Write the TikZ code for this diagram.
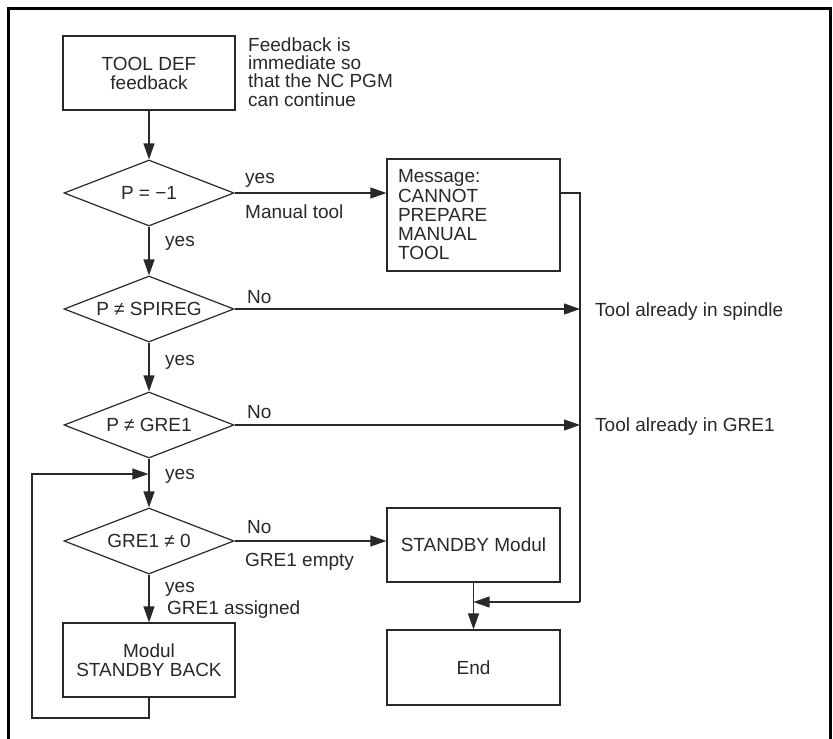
\documentclass[tikz,border=0pt]{standalone}
\usepackage{fontspec}
\setmainfont{Liberation Sans}
\usetikzlibrary{arrows.meta,shapes.geometric}
\definecolor{ink}{RGB}{40,40,40}
\begin{document}
\begin{tikzpicture}[x=1pt,y=-1pt,
  font=\fontsize{19}{19}\selectfont,
  every node/.style={text=ink},
  box/.style={draw=ink, line width=1.2pt, minimum width=172pt, minimum height=74pt, inner sep=0pt, align=center},
  dia/.style={diamond, shape aspect=2.58, draw=ink, line width=1.2pt, minimum width=170pt, minimum height=66pt, inner sep=0pt},
  lab/.style={anchor=base west, inner sep=0pt},
  con/.style={draw=ink, line width=1.2pt},
  arr/.style={con, -{Triangle[length=16pt,width=11pt]}},
  frame/.style={draw=black, line width=3pt}]
\useasboundingbox (0,0) rectangle (833,739);
\draw[frame] (8,740) -- (8,8) -- (830.5,8) -- (830.5,740);

% nodes
\node[box] (tool) at (149,73) {TOOL DEF\\feedback};
\node[lab, align=left, font=\fontsize{19}{18.3}\selectfont] (fb) at (248,106) {Feedback is\\immediate so\\that the NC PGM\\can continue};
\node[dia] (d1) at (149,193) {P = −1};
\node[dia] (d2) at (149,309) {P ≠ SPIREG};
\node[dia] (d3) at (149,425) {P ≠ GRE1};
\node[dia] (d4) at (149,541) {GRE1 ≠ 0};
\node[box, minimum width=173pt, minimum height=112pt, align=left, text width=151pt, inner xsep=11pt, font=\fontsize{19}{19.25}\selectfont] (msg) at (473.5,215) {Message:\\CANNOT\\PREPARE\\MANUAL\\TOOL};
\node[box, minimum width=173pt] (sb) at (473.5,545) {STANDBY Modul};
\node[box, minimum width=173pt, minimum height=75pt] (end) at (473.5,667.5) {End};
\node[box] (back) at (149,660) {Modul\\STANDBY BACK};

% labels
\node[lab] (l1) at (245,183) {yes};
\node[lab] (l2) at (245,218) {Manual tool};
\node[lab] (l3) at (165,246) {yes};
\node[lab] (l4) at (247,303) {No};
\node[lab] (l5) at (165,365) {yes};
\node[lab] (l6) at (247,418) {No};
\node[lab] (l7) at (165,479) {yes};
\node[lab] (l8) at (247,533) {No};
\node[lab] (l9) at (245,566) {GRE1 empty};
\node[lab] (l10) at (165,592) {yes};
\node[lab] (l11) at (167,614) {GRE1 assigned};
\node[lab] (t1) at (595,316) {Tool already in spindle};
\node[lab] (t2) at (595,431) {Tool already in GRE1};

% coordinates
\coordinate (busT) at (580,193);
\coordinate (busB) at (580,602);
\coordinate (bus2) at (580,309);
\coordinate (bus3) at (580,425);
\coordinate (merge) at (473.5,602);
\coordinate (loopin) at (148.4,474);
\coordinate (loopB) at (149,718);
\coordinate (loopL) at (32,718);

% connectors
\draw[arr] (tool) -- (d1);
\draw[arr] (d1) -- (d2);
\draw[arr] (d2) -- (d3);
\draw[arr] (d3) -- (d4);
\draw[arr] (d4) -- (back);
\draw[arr] (d1.east) -- (msg.west |- d1.east);
\draw[arr] (d2.east) -- (bus2);
\draw[arr] (d3.east) -- (bus3);
\draw[arr] (d4.east) -- (sb.west |- d4.east);
\draw[con] (msg.east |- busT) -- (busT) -- (busB);
\draw[arr] (busB) -- (merge);
\draw[arr] (sb) -- (end);
\draw[arr] (back.south) -- (loopB) -- (loopL) |- (loopin);
\end{tikzpicture}
\end{document}
